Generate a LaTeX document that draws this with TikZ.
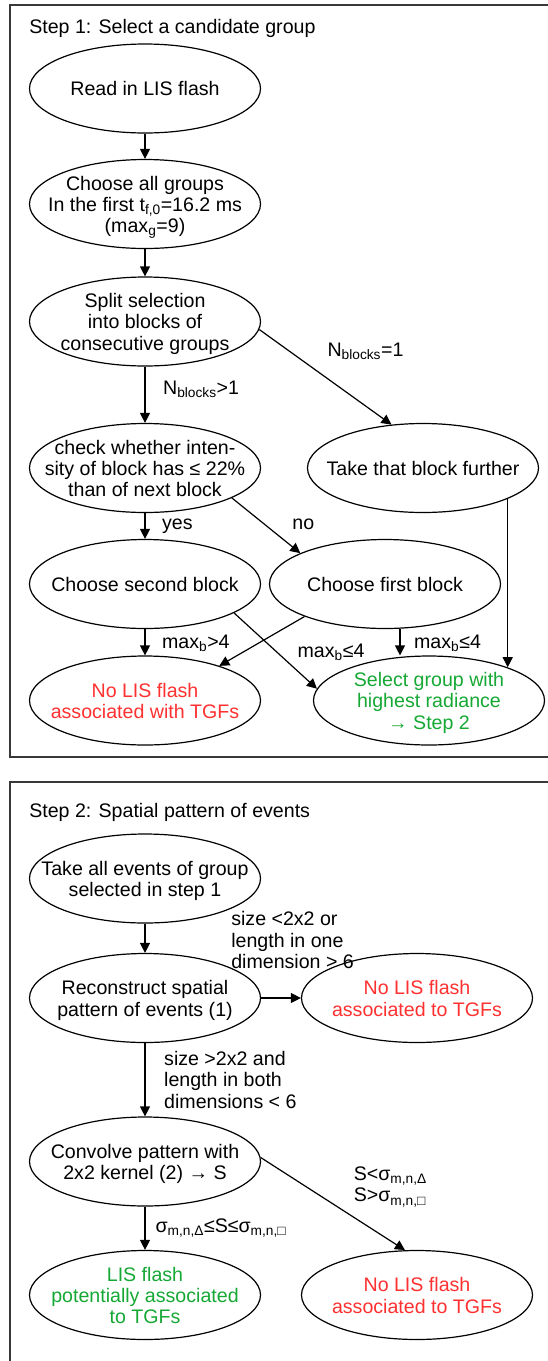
\documentclass[tikz,border=0pt]{standalone}
\usepackage{fontspec}
\setmainfont{Liberation Sans}
\usetikzlibrary{shapes.geometric,arrows.meta}
\definecolor{maudo}{RGB}{255,48,48}
\definecolor{mauxanh}{RGB}{22,168,52}
% chữ đặt giữa elip, không làm elip to ra
\newcommand{\trong}[1]{\smash{\raisebox{-8.4pt}{\makebox[0pt]{\begin{tabular}{@{}c@{}}#1\end{tabular}}}}}
\begin{document}
\begin{tikzpicture}[x=1pt,y=-1pt,>={Triangle[length=10pt,width=10pt]},line width=1.2pt,font=\fontsize{19.6}{21.3}\selectfont]
	\tikzset{elip/.style={ellipse,draw,minimum width=231pt,minimum height=89pt,inner sep=0pt},
		nhan/.style={inner sep=0pt,align=left},
		khung/.style={draw=black!78,line width=1.6pt}}
	\useasboundingbox (0,0) rectangle (548,1361);
	
	% Khung hai bước
	\draw[khung] (548,5) -- (10,5) -- (10,757) -- (548,757);
	\draw[khung] (548,782) -- (10,782) -- (10,1361);
	
	% Bước 1
	\path (28.7,33.3) node[anchor=base west,inner sep=0pt] (buoc1) {Step 1: Select a candidate group}
	(145,88.5) node[elip] (doc) {\trong{Read in LIS flash}}
	(145,204) node[elip] (chon) {\trong{Choose all groups\\In the first t\textsubscript{f,0}=16.2 ms\\(max\textsubscript{g}=9)}}
	(145,321.5) node[elip] (tach) {\trong{Split selection\\into blocks of\\consecutive groups}}
	(145,468) node[elip] (ktra) {\trong{check whether inten-\\sity of block has ≤ 22\%\\than of next block}}
	(423,468) node[elip] (take) {\trong{Take that block further}}
	(145,584) node[elip] (k2) {\trong{Choose second block}}
	(385,584) node[elip] (k1) {\trong{Choose first block}}
	(145,700.5) node[elip,text=maudo] (khong1) {\trong{No LIS flash\\associated with TGFs}}
	(429,700.5) node[elip,text=mauxanh] (chongr) {\trong{Select group with\\highest radiance\\→ Step 2}};
	
	% Mũi tên bước 1
	\draw[->] (doc) -- (chon);
	\draw[->] (chon) -- (tach);
	\draw[->] (tach) -- (ktra) node[nhan,pos=.5,anchor=base west,xshift=17.5pt]{N\textsubscript{blocks}>1};
	\draw[->] (tach.-4) -- (take.126) node[nhan,pos=.5,anchor=base west,xshift=1.6pt,yshift=20.8pt]{N\textsubscript{blocks}=1};
	\draw[->] (ktra) -- (k2) node[nhan,pos=.5,anchor=base west,xshift=16.5pt,yshift=-3.5pt]{yes};
	\draw[->] (ktra.-19) -- (k1.160) node[nhan,pos=.5,anchor=base west,xshift=25.8pt,yshift=-4.4pt]{no};
	\draw[->] (take.-20) -- (take.-20 |- chongr.23);
	\draw[->] (k2) -- (khong1) node[nhan,pos=.5,anchor=base west,xshift=16.5pt,yshift=-6.3pt]{max\textsubscript{b}>4};
	\draw[->] (k2.-18) -- (chongr.174) node[nhan,pos=.5,anchor=base west,xshift=21.5pt,yshift=-6.2pt]{max\textsubscript{b}≤4};
	\draw[->] (k1.-158) -- (khong1.25);
	\draw[->] ([xshift=15pt]k1.south) -- ([xshift=15pt]k1.south |- chongr.north) node[nhan,pos=.5,anchor=base west,xshift=13.5pt,yshift=-6.3pt]{max\textsubscript{b}≤4};
	
	% Bước 2
	\path (28.7,817.3) node[anchor=base west,inner sep=0pt] (buoc2) {Step 2: Spatial pattern of events}
	(145,878.5) node[elip] (sk) {\trong{Take all events of group\\selected in step 1}}
	(145,998) node[elip] (tai) {\trong{Reconstruct spatial\\pattern of events (1)}}
	(417,998) node[elip,text=maudo] (khong2) {\trong{No LIS flash\\associated to TGFs}}
	(145,1161.5) node[elip] (tich) {\trong{Convolve pattern with\\2x2 kernel (2) → S}}
	(145,1295) node[elip,text=mauxanh] (co) {\trong{LIS flash\\potentially associated\\to TGFs}}
	(417,1295) node[elip,text=maudo] (khong3) {\trong{No LIS flash\\associated to TGFs}};
	
	% Mũi tên bước 2
	\draw[->] (sk) -- (tai);
	\draw[->] (tai) -- (khong2) node[nhan,pos=0,anchor=west,xshift=-30.4pt,yshift=58pt]{size <2x2 or\\length in one\\dimension > 6};
	\draw[->] (tai) -- (tich) node[nhan,pos=.5,anchor=west,xshift=18.6pt]{size >2x2 and\\length in both\\dimensions < 6};
	\draw[->] (tich) -- (co) node[nhan,pos=.5,anchor=west,xshift=10pt]{σ\textsubscript{m,n,Δ}≤S≤σ\textsubscript{m,n,□}};
	\draw[->] (tich.2) -- (khong3.105) node[nhan,pos=.5,anchor=west,xshift=20.4pt,yshift=16.9pt]{S<σ\textsubscript{m,n,Δ}\\S>σ\textsubscript{m,n,□}};
\end{tikzpicture}
\end{document}
